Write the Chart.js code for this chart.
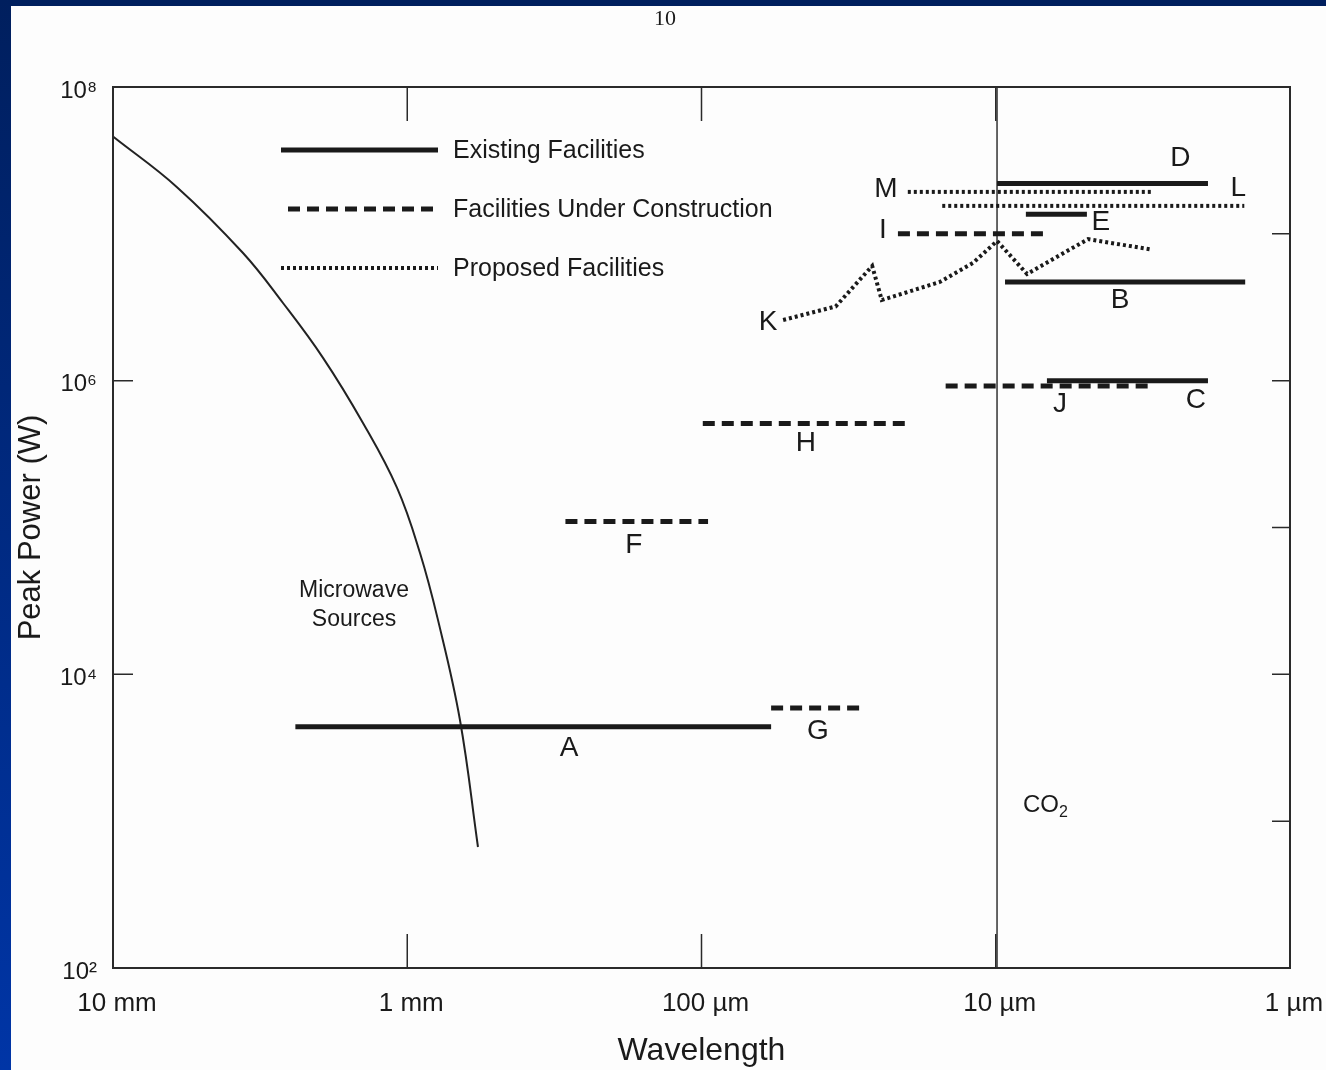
<!DOCTYPE html>
<html>
<head>
<meta charset="utf-8">
<script src="https://cdn.jsdelivr.net/npm/chart.js@4.4.1/dist/chart.umd.min.js"></script>
<style>
  html, body { margin: 0; padding: 0; background: #fff; }
  #wrap { position: relative; width: 1326px; height: 1070px; overflow: hidden; background: #fdfdfd; }
  #chart { position: absolute; left: 0; top: 0; }
  .edge-top { position: absolute; left: 0; top: 0; width: 1326px; height: 6px; background: #001f5e; }
  .edge-left { position: absolute; left: 0; top: 0; width: 11px; height: 1070px; background: linear-gradient(#001f5e, #0035a6); }
</style>
</head>
<body>
<div id="wrap">
  <canvas id="chart" width="1326" height="1070"></canvas>
  <div class="edge-top"></div>
  <div class="edge-left"></div>
</div>
<script>
// ---- Data (wavelength in µm, peak power in W) ----

const xTickValues = [10000, 1000, 100, 10, 1];
const xTickLabels = ['10 mm', '1 mm', '100 µm', '10 µm', '1 µm'];
const yTickValues = [1e2, 1e4, 1e6, 1e8];
const yTickLabels = ['10²', '10⁴', '10⁶', '10⁸'];

// facility bars: name, status, long-wavelength end, short-wavelength end, power
const facilityNames  = ['A', 'B', 'C', 'D', 'E', 'F', 'G', 'H', 'I', 'J', 'L', 'M'];
const facilityStatus = ['existing', 'existing', 'existing', 'existing', 'existing',
                        'construction', 'construction', 'construction', 'construction', 'construction',
                        'proposed', 'proposed'];
const facilityFrom   = [2400, 9.3, 6.7, 9.9, 7.9, 290, 58, 99, 21.5, 14.8, 15.2, 19.9];
const facilityTo     = [58, 1.42, 1.9, 1.9, 4.9, 95, 28.5, 19.6, 6.7, 2.9, 1.43, 2.95];
const facilityPower  = [4.4e3, 4.7e6, 1.0e6, 2.2e7, 1.36e7, 1.1e5, 5.9e3, 5.1e5, 1.0e7, 9.2e5, 1.55e7, 1.93e7];

// proposed facility K (broken path)
const kWavelength = [52.8, 35, 26.3, 24.4, 15.5, 11.95, 9.9, 7.83, 4.86, 2.94];
const kPower      = [2.59e6, 3.2e6, 6.04e6, 3.54e6, 4.7e6, 6.33e6, 8.94e6, 5.33e6, 9.2e6, 7.8e6];

// microwave sources envelope
const microwaveWavelength = [10000, 6060, 3615, 2644, 1933, 1414, 1083, 905, 786, 662, 575];
const microwavePower      = [4.6e7, 2.08e7, 7.4e6, 3.38e6, 1.43e6, 5.15e5, 1.86e5, 6.7e4, 2.34e4, 4.89e3, 667];

// CO2 laser line
const co2Wavelength = 9.9;

// letter labels anchored in data space
const labelNames      = ['A', 'B', 'C', 'D', 'E', 'F', 'G', 'H', 'I', 'J', 'K', 'L', 'M'];
const labelWavelength = [282, 3.78, 2.09, 2.36, 4.39, 170, 40.2, 44.2, 24.2, 6.05, 59.4, 1.5, 23.6];
const labelPower      = [3150, 3.54e6, 7.39e5, 3.28e7, 1.2e7, 7.6e4, 4110, 3.76e5, 1.05e7, 6.93e5, 2.51e6, 2.05e7, 2.02e7];

// ---- Styles ----

const ink = '#1a1a1a';
const fontFamily = "'Liberation Sans', Arial, Helvetica, sans-serif";
const lineStyles = {
  existing:     { borderWidth: 5, borderDash: [] },
  construction: { borderWidth: 5, borderDash: [12, 7] },
  proposed:     { borderWidth: 4, borderDash: [3, 3] }
};

Chart.defaults.font.family = fontFamily;
Chart.defaults.color = ink;

// ---- Datasets ----

const datasets = facilityNames.map((name, i) => ({
  label: name,
  data: [
    { x: facilityFrom[i], y: facilityPower[i] },
    { x: facilityTo[i], y: facilityPower[i] }
  ],
  showLine: true,
  pointRadius: 0,
  borderColor: ink,
  borderCapStyle: 'butt',
  ...lineStyles[facilityStatus[i]]
}));

datasets.push({
  label: 'K',
  data: kWavelength.map((w, i) => ({ x: w, y: kPower[i] })),
  showLine: true,
  pointRadius: 0,
  borderColor: ink,
  ...lineStyles.proposed
});

datasets.push({
  label: 'Microwave Sources',
  data: microwaveWavelength.map((w, i) => ({ x: w, y: microwavePower[i] })),
  showLine: true,
  pointRadius: 0,
  borderColor: '#222',
  borderWidth: 2,
  tension: 0.4
});

datasets.push({
  label: 'CO2',
  data: [{ x: co2Wavelength, y: 1e2 }, { x: co2Wavelength, y: 1e8 }],
  showLine: true,
  pointRadius: 0,
  borderColor: '#333',
  borderWidth: 1.5
});

// ---- Frame, inward ticks, legend and annotations ----

const annotations = {
  id: 'annotations',
  afterDatasetsDraw(chart) {
    const { ctx, chartArea: a, scales: { x, y } } = chart;
    ctx.save();

    // frame
    ctx.strokeStyle = '#2a2a2a';
    ctx.lineWidth = 2;
    ctx.strokeRect(a.left, a.top, a.right - a.left, a.bottom - a.top);

    // inward tick marks
    ctx.lineWidth = 1.5;
    ctx.beginPath();
    [1000, 100, 10].forEach(v => {
      const px = x.getPixelForValue(v);
      ctx.moveTo(px, a.top); ctx.lineTo(px, a.top + 34);
      ctx.moveTo(px, a.bottom); ctx.lineTo(px, a.bottom - 34);
    });
    [1e4, 1e6].forEach(v => {
      const py = y.getPixelForValue(v);
      ctx.moveTo(a.left, py); ctx.lineTo(a.left + 20, py);
    });
    [1e3, 1e4, 1e5, 1e6, 1e7].forEach(v => {
      const py = y.getPixelForValue(v);
      ctx.moveTo(a.right, py); ctx.lineTo(a.right - 18, py);
    });
    ctx.stroke();

    // legend
    const legendRows = [
      { style: 'existing', text: 'Existing Facilities', y: 150, x0: 281 },
      { style: 'construction', text: 'Facilities Under Construction', y: 209, x0: 288 },
      { style: 'proposed', text: 'Proposed Facilities', y: 268, x0: 281 }
    ];
    ctx.strokeStyle = ink;
    ctx.fillStyle = ink;
    ctx.font = '25px ' + fontFamily;
    ctx.textAlign = 'left';
    ctx.textBaseline = 'middle';
    legendRows.forEach(r => {
      const st = lineStyles[r.style];
      ctx.lineWidth = st.borderWidth;
      ctx.setLineDash(st.borderDash);
      ctx.beginPath();
      ctx.moveTo(r.x0, r.y);
      ctx.lineTo(438, r.y);
      ctx.stroke();
      ctx.fillText(r.text, 453, r.y + 1);
    });
    ctx.setLineDash([]);

    // facility letters
    ctx.font = '28px ' + fontFamily;
    ctx.textAlign = 'center';
    labelNames.forEach((n, i) => {
      ctx.fillText(n, x.getPixelForValue(labelWavelength[i]), y.getPixelForValue(labelPower[i]));
    });

    // microwave note
    ctx.font = '23px ' + fontFamily;
    const mx = x.getPixelForValue(1517), my = y.getPixelForValue(3.0e4);
    ctx.fillText('Microwave', mx, my - 14);
    ctx.fillText('Sources', mx, my + 15);

    // CO2 note
    const cx = x.getPixelForValue(6.8), cy = y.getPixelForValue(1.29e3);
    ctx.font = '24px ' + fontFamily;
    ctx.textAlign = 'right';
    ctx.fillText('CO', cx + 14, cy);
    ctx.font = '16px ' + fontFamily;
    ctx.textAlign = 'left';
    ctx.fillText('2', cx + 14, cy + 8);

    // page number
    ctx.font = '22px "Liberation Serif", "DejaVu Serif", serif';
    ctx.textAlign = 'center';
    ctx.fillText('10', 665, 19);

    ctx.restore();
  }
};

// ---- Chart ----

const ctx = document.getElementById('chart').getContext('2d');

new Chart(ctx, {
  type: 'scatter',
  data: { datasets },
  options: {
    responsive: false,
    animation: false,
    layout: { padding: { top: 87, right: 36, left: 0, bottom: 0 } },
    plugins: {
      legend: { display: false },
      tooltip: { enabled: false }
    },
    scales: {
      x: {
        type: 'logarithmic',
        reverse: true,
        min: 1,
        max: 10000,
        grid: { display: false, drawTicks: false },
        border: { display: false },
        afterBuildTicks: s => { s.ticks = xTickValues.map(v => ({ value: v })); },
        afterFit: s => { s.height = 102; s.paddingLeft = 0; s.paddingRight = 0; },
        ticks: {
          autoSkip: false,
          maxRotation: 0,
          padding: 20,
          labelOffset: 4,
          color: ink,
          font: { size: 26 },
          callback: (v, i) => xTickLabels[i]
        },
        title: {
          display: true,
          text: 'Wavelength',
          color: ink,
          font: { size: 32 },
          padding: 0
        }
      },
      y: {
        type: 'logarithmic',
        min: 1e2,
        max: 1e8,
        grid: { display: false, drawTicks: false },
        border: { display: false },
        afterBuildTicks: s => { s.ticks = yTickValues.map(v => ({ value: v })); },
        afterFit: s => { s.width = 113; s.paddingTop = 0; s.paddingBottom = 0; },
        ticks: {
          autoSkip: false,
          padding: 16,
          labelOffset: 4,
          color: ink,
          font: { size: 24 },
          callback: (v, i) => yTickLabels[i]
        },
        title: {
          display: true,
          text: 'Peak Power (W)',
          color: ink,
          font: { size: 31 },
          padding: { top: 13 }
        }
      }
    }
  },
  plugins: [annotations]
});
</script>
</body>
</html>
